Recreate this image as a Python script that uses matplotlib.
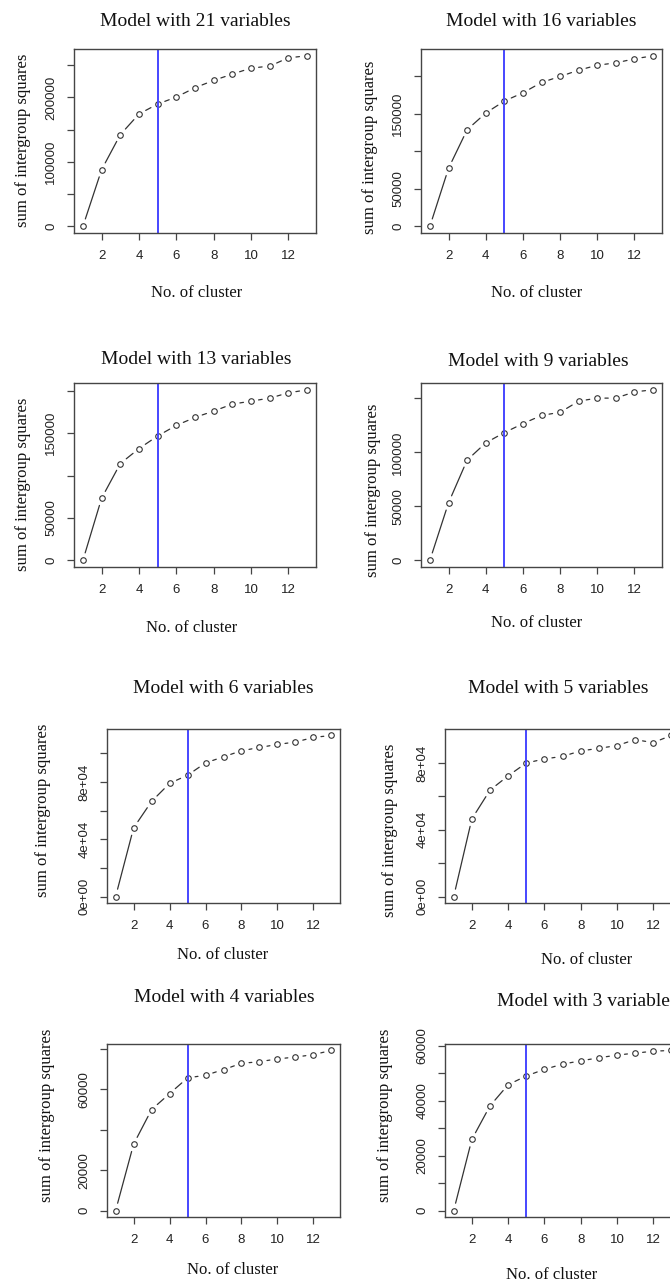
"""Elbow plots: between-cluster sum of squares for eight variable subsets."""

import matplotlib

matplotlib.use("Agg")
import matplotlib.pyplot as plt

FIG_W, FIG_H = 670, 1282

clusters = list(range(1, 14))
x_ticks = [2, 4, 6, 8, 10, 12]
chosen_k = 5

titles = [
    "Model with 21 variables",
    "Model with 16 variables",
    "Model with 13 variables",
    "Model with 9 variables",
    "Model with 6 variables",
    "Model with 5 variables",
    "Model with 4 variables",
    "Model with 3 variables",
]

ss_21 = [0, 87900, 142200, 174300, 189800, 200600, 215100, 226500, 236300, 245600, 248700, 261600, 264700]
ss_16 = [0, 77100, 128500, 150700, 166700, 177700, 191500, 199500, 207900, 214500, 217600, 223000, 227000]
ss_13 = [0, 73300, 114100, 131800, 146700, 159200, 168600, 176100, 184300, 187800, 191400, 197600, 201200]
ss_9 = [0, 53200, 92800, 108800, 118300, 126600, 134300, 137100, 147500, 150300, 150300, 156100, 158000]
ss_6 = [0, 48000, 66500, 79100, 84800, 93400, 97700, 101900, 104200, 106300, 108000, 111200, 112600]
ss_5 = [0, 46500, 63700, 72300, 80000, 82400, 84000, 87200, 88800, 90400, 94000, 92200, 96500]
ss_4 = [0, 32900, 50000, 57900, 65700, 67000, 69800, 72900, 73700, 75100, 76000, 77200, 79300]
ss_3 = [0, 25900, 38100, 45800, 49000, 51400, 53300, 54500, 55600, 56600, 57300, 58000, 58300]

y_ticks = [
    [0, 50000, 100000, 150000, 200000, 250000],
    [0, 50000, 100000, 150000, 200000],
    [0, 50000, 100000, 150000, 200000],
    [0, 50000, 100000, 150000],
    [0, 20000, 40000, 60000, 80000, 100000],
    [0, 20000, 40000, 60000, 80000],
    [0, 20000, 40000, 60000, 80000],
    [0, 10000, 20000, 30000, 40000, 50000, 60000],
]
y_tick_labels = [
    ["0", "", "100000", "", "200000", ""],
    ["0", "50000", "", "150000", ""],
    ["0", "50000", "", "150000", ""],
    ["0", "50000", "100000", ""],
    ["0e+00", "", "4e+04", "", "8e+04", ""],
    ["0e+00", "", "4e+04", "", "8e+04"],
    ["0", "20000", "", "60000", ""],
    ["0", "", "20000", "", "40000", "", "60000"],
]

# pixel layout: axes box (left, top, right, bottom), title, ylabel, xlabel centres
layout = [
    dict(box=(74, 49, 316, 233), title=(195, 22), ylab=(23, 140), xlab=(197, 293)),
    dict(box=(421, 49, 662, 233), title=(541, 22), ylab=(370, 147), xlab=(537, 293)),
    dict(box=(74, 383, 316, 567), title=(196, 360), ylab=(23, 484), xlab=(192, 628)),
    dict(box=(421, 383, 662, 567), title=(538, 362), ylab=(373, 490), xlab=(537, 623)),
    dict(box=(107, 729, 340, 903), title=(223, 689), ylab=(43, 810), xlab=(223, 955)),
    dict(box=(445, 729, 680, 903), title=(558, 689), ylab=(390, 830), xlab=(587, 960)),
    dict(box=(107, 1044, 340, 1217), title=(224, 997), ylab=(47, 1115), xlab=(233, 1270)),
    dict(box=(445, 1044, 680, 1217), title=(587, 1002), ylab=(385, 1115), xlab=(552, 1275)),
]

SERIF = ["Liberation Serif", "DejaVu Serif"]
SANS = ["Liberation Sans", "DejaVu Sans"]
INK = "#333333"
FRAME = "#454545"


def draw_panel(fig, spec, title, values, ticks, tick_labels):
    """Draw one R-style elbow plot (type='b') at a fixed pixel position."""
    left, top, right, bottom = spec["box"]
    ax = fig.add_axes([
        left / FIG_W,
        1 - bottom / FIG_H,
        (right - left) / FIG_W,
        (bottom - top) / FIG_H,
    ])

    ax.plot(clusters, values, linestyle="none", marker="o", markersize=4.0,
            markerfacecolor="none", markeredgecolor=INK, markeredgewidth=0.8)
    for i in range(len(clusters) - 1):
        ax.annotate(
            "",
            xy=(clusters[i + 1], values[i + 1]),
            xytext=(clusters[i], values[i]),
            arrowprops=dict(arrowstyle="-", color=INK, lw=0.9,
                            shrinkA=5.5, shrinkB=5.5),
        )
    ax.axvline(chosen_k, color="#4646ff", lw=1.4)

    ax.margins(x=0.04, y=0.04)
    ax.set_xticks(x_ticks)
    ax.set_yticks(ticks)
    ax.set_yticklabels(tick_labels, rotation=90, va="center")
    ax.tick_params(length=5, width=0.9, color=FRAME, pad=7,
                   labelsize=9.5, labelcolor="#222222")
    for label in ax.get_xticklabels() + ax.get_yticklabels():
        label.set_fontfamily(SANS)
    for spine in ax.spines.values():
        spine.set_color(FRAME)
        spine.set_linewidth(1.0)

    tx, ty = spec["title"]
    fig.text(tx / FIG_W, 1 - ty / FIG_H, title, ha="center", va="center",
             fontsize=14, family=SERIF, color="#111111")
    yx, yy = spec["ylab"]
    fig.text(yx / FIG_W, 1 - yy / FIG_H, "sum of intergroup squares",
             rotation=90, ha="center", va="center", fontsize=12,
             family=SERIF, color="#111111")
    xx, xy = spec["xlab"]
    fig.text(xx / FIG_W, 1 - xy / FIG_H, "No. of cluster", ha="center",
             va="center", fontsize=12, family=SERIF, color="#111111")


def main() -> None:
    fig = plt.figure(figsize=(FIG_W / 100, FIG_H / 100), dpi=100)
    series = [ss_21, ss_16, ss_13, ss_9, ss_6, ss_5, ss_4, ss_3]
    for spec, title, values, ticks, labels in zip(layout, titles, series, y_ticks, y_tick_labels):
        draw_panel(fig, spec, title, values, ticks, labels)
    fig.savefig("out.png", dpi=100, facecolor="white")
    plt.close(fig)


if __name__ == "__main__":
    main()
